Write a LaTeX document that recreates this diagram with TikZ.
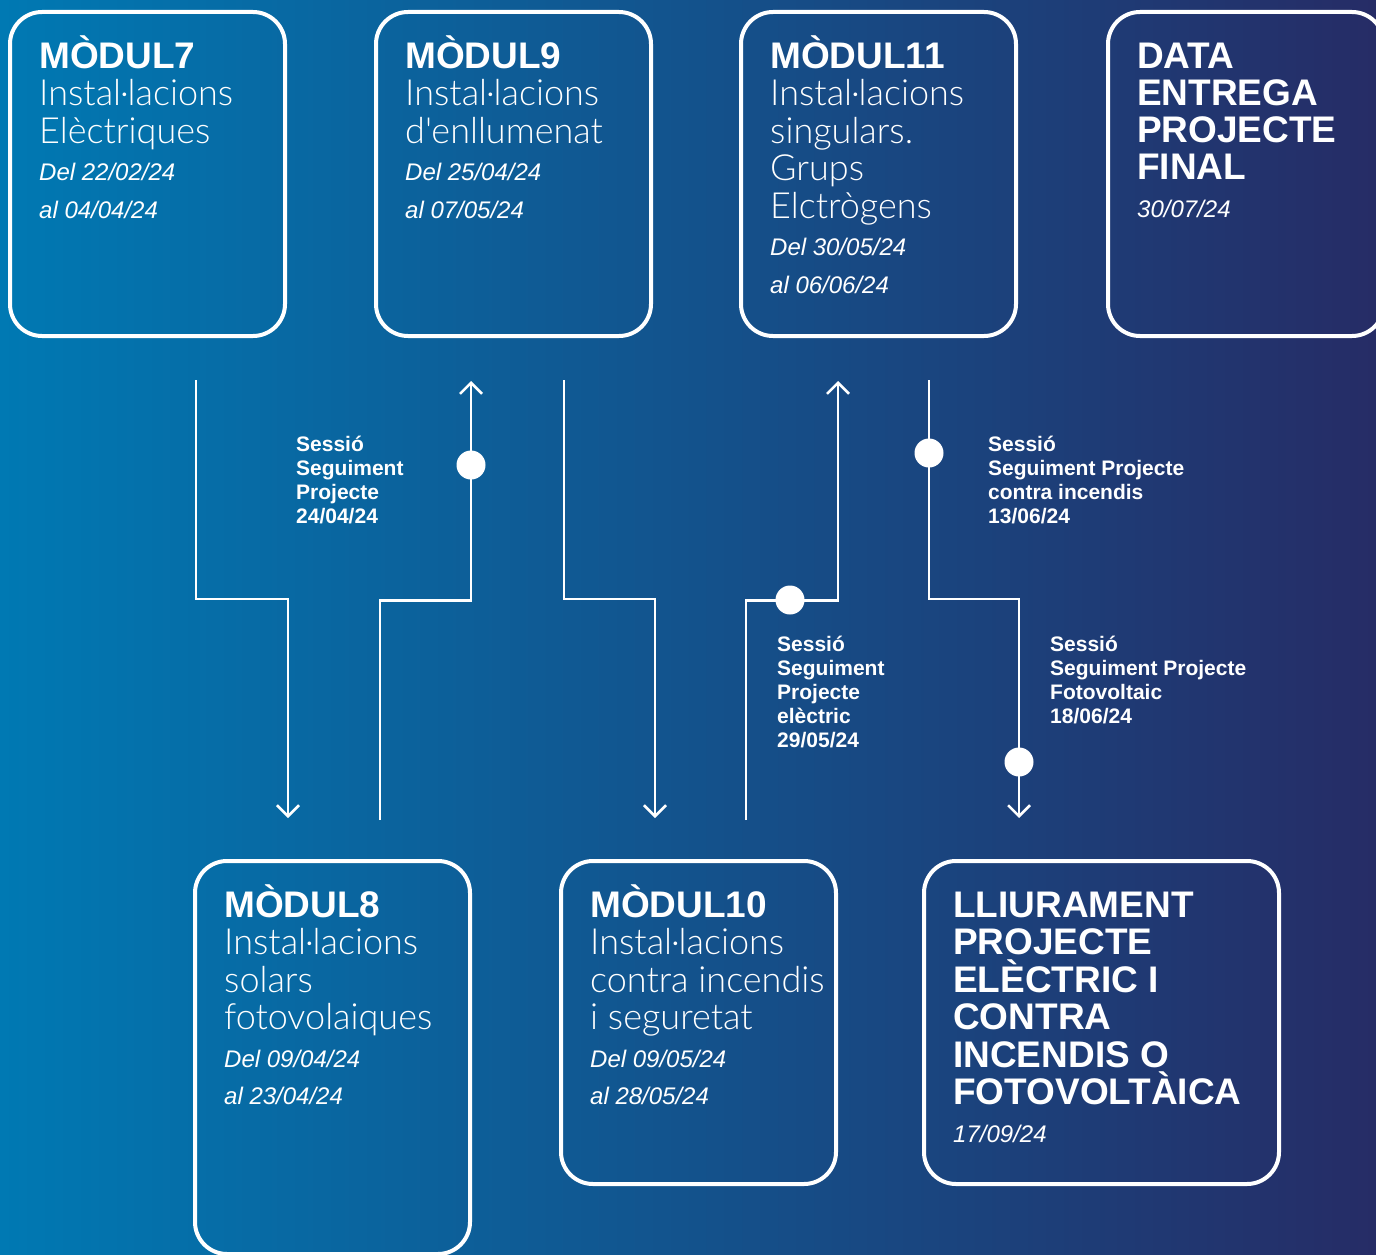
\documentclass[tikz,border=0pt]{standalone}
\usepackage{fontspec}
\setmainfont{Liberation Sans}
\newfontfamily\lightfont{Lato}[UprightFont=* Light]
\usetikzlibrary{positioning,calc,arrows.meta}

\definecolor{bgleft}{HTML}{0079B3}
\definecolor{bgmid}{HTML}{005188}
\definecolor{bgright}{HTML}{262C66}

\newcommand{\modtitle}[1]{{\normalfont\fontsize{37}{37.5}\selectfont\bfseries\rule{0pt}{36pt}#1}}
\newcommand{\moddate}[1]{{\normalfont\fontsize{24}{37.5}\selectfont\itshape #1}}

\tikzset{
  modbox/.style={draw=white, line width=4pt, rounded corners=32pt, minimum width=275pt,
    minimum height=324pt, anchor=north west, outer sep=0pt, inner sep=0pt},
  modtext/.style={text=white, inner sep=0pt, anchor=north west, text width=330pt,
    align=flush left, font=\lightfont\fontsize{36}{37.5}\selectfont},
  sessio/.style={text=white, inner sep=0pt, anchor=north west, text width=240pt,
    align=flush left, font=\fontsize{21}{24}\selectfont\bfseries},
  flow/.style={draw=white, line width=2.5pt, -{Straight Barb[length=11pt,width=22pt]}},
  dot/.style={circle, fill=white, minimum size=29pt, inner sep=0pt},
}

\begin{document}
\begin{tikzpicture}[x=1pt, y=-1pt]
\useasboundingbox (0,0) rectangle (1376,1255);
\clip (0,0) rectangle (1376,1255);
\fill[left color=bgleft, middle color=bgmid, right color=bgright] (0,0) rectangle (1376,1255);

% modules, top row
\node[modbox] (m7) at (10,12) {};
\node[modbox] (m9) at (376,12) {};
\node[modbox] (m11) at (741,12) {};
\node[modbox, minimum width=276pt] (final) at (1108,12) {};
% modules, bottom row
\node[modbox, minimum height=393pt] (m8) at (195,861) {};
\node[modbox, minimum height=323pt] (m10) at (561,861) {};
\node[modbox, minimum width=355pt, minimum height=323pt] (lliur) at (924,861) {};

\node[modtext, below right=20pt and 29pt of m7.north west] (t7)
  {\modtitle{MÒDUL7}\\ Instal·lacions\\ Elèctriques\\ \moddate{Del 22/02/24}\\ \moddate{al 04/04/24}};
\node[modtext, below right=20pt and 29pt of m9.north west] (t9)
  {\modtitle{MÒDUL9}\\ Instal·lacions\\ d'enllumenat\\ \moddate{Del 25/04/24}\\ \moddate{al 07/05/24}};
\node[modtext, below right=20pt and 29pt of m11.north west] (t11)
  {\modtitle{MÒDUL11}\\ Instal·lacions\\ singulars.\\ Grups\\ Elctrògens\\ \moddate{Del 30/05/24}\\ \moddate{al 06/06/24}};
\node[modtext, below right=20pt and 29pt of final.north west] (tfinal)
  {{\normalfont\fontsize{37}{37}\selectfont\bfseries\rule{0pt}{36pt}DATA\\ ENTREGA\\ PROJECTE\\ FINAL}\\ \moddate{30/07/24}};
\node[modtext, below right=20pt and 29pt of m8.north west] (t8)
  {\modtitle{MÒDUL8}\\ Instal·lacions\\ solars\\ fotovolaiques\\ \moddate{Del 09/04/24}\\ \moddate{al 23/04/24}};
\node[modtext, below right=20pt and 29pt of m10.north west] (t10)
  {\modtitle{MÒDUL10}\\ Instal·lacions\\ contra incendis\\ i seguretat\\ \moddate{Del 09/05/24}\\ \moddate{al 28/05/24}};
\node[modtext, below right=20pt and 29pt of lliur.north west] (tlliur)
  {{\normalfont\fontsize{37}{37.5}\selectfont\bfseries\rule{0pt}{36pt}LLIURAMENT\\ PROJECTE\\ ELÈCTRIC I\\ CONTRA\\ INCENDIS O\\ FOTOVOLTÀICA}\\ \moddate{17/09/24}};

% connectors
\coordinate (a1) at (196,380);  \coordinate (b1) at (288,818);
\coordinate (a2) at (380,820);  \coordinate (b2) at (471,381);
\coordinate (a3) at (564,380);  \coordinate (b3) at (655,818);
\coordinate (a4) at (746,820);  \coordinate (b4) at (838,381);
\coordinate (a5) at (929,380);  \coordinate (b5) at (1019,818);
\foreach \s/\e in {a1/b1,a2/b2,a3/b3,a4/b4,a5/b5}
  \draw[flow] (\s) |- ($(\s)!.5!(\e)$) -| (\e);

\node[dot] (d1) at (471,465) {};
\node[dot] (d2) at (790,600) {};
\node[dot] (d3) at (929,453) {};
\node[dot] (d4) at (1019,762) {};

\node[sessio] (s1) at (296,431) {\rule{0pt}{20pt}Sessió\\ Seguiment\\ Projecte\\ 24/04/24};
\node[sessio] (s2) at (988,431) {\rule{0pt}{20pt}Sessió\\ Seguiment Projecte\\ contra incendis\\ 13/06/24};
\node[sessio] (s3) at (777,631) {\rule{0pt}{20pt}Sessió\\ Seguiment\\ Projecte\\ elèctric\\ 29/05/24};
\node[sessio] (s4) at (1050,631) {\rule{0pt}{20pt}Sessió\\ Seguiment Projecte\\ Fotovoltaic\\ 18/06/24};
\end{tikzpicture}
\end{document}
